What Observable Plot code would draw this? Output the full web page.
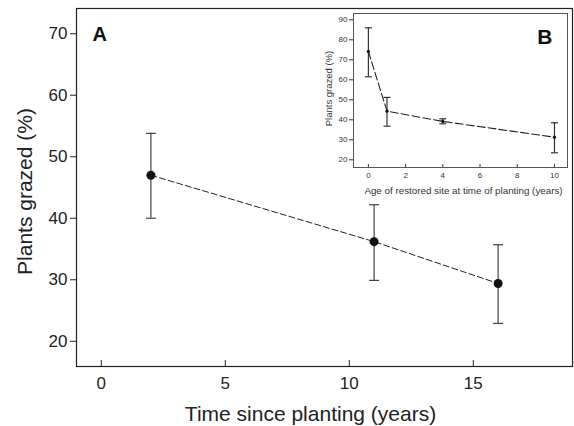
<!DOCTYPE html>
<html>
<head>
<meta charset="utf-8">
<script src="https://cdn.jsdelivr.net/npm/d3@7"></script>
<script src="https://cdn.jsdelivr.net/npm/@observablehq/plot@0.6"></script>
<style>
  html, body { margin: 0; padding: 0; background: #fff; overflow: hidden; }
  #wrap { position: relative; width: 574px; height: 426px; overflow: hidden; font-family: "Liberation Sans", Arial, sans-serif; }
  #wrap svg { position: absolute; background: transparent; }
</style>
</head>
<body>
<div id="wrap"></div>
<script>
// Panel A: time since planting
const mainYears = [2, 11, 16];
const mainGrazed = [47, 36.2, 29.4];
const mainLow = [40, 29.9, 22.9];
const mainHigh = [53.8, 42.2, 35.7];
const mainXTicks = [0, 5, 10, 15];
const mainYTicks = [20, 30, 40, 50, 60, 70];

// Panel B (inset): age of restored site
const insetAge = [0, 1, 4, 10];
const insetGrazed = [74.2, 44.3, 39.2, 31.3];
const insetLow = [61.5, 36.8, 38.0, 23.5];
const insetHigh = [86, 51.2, 40.5, 38.5];
const insetXTicks = [0, 2, 4, 6, 8, 10];
const insetYTicks = [20, 30, 40, 50, 60, 70, 80, 90];

const mainData = mainYears.map((x, i) => ({x, y: mainGrazed[i], lo: mainLow[i], hi: mainHigh[i]}));
const insetData = insetAge.map((x, i) => ({x, y: insetGrazed[i], lo: insetLow[i], hi: insetHigh[i]}));

// horizontal cap symbol for error bars
const cap = {draw(ctx, size) { const w = Math.sqrt(size / Math.PI); ctx.moveTo(-w, 0); ctx.lineTo(w, 0); }};

const font = '"Liberation Sans", Arial, sans-serif';
const wrap = document.getElementById("wrap");

const mainW = 574, mainH = 426, mT = 8, mB = 60, mL = 76, mR = 2;
const main = Plot.plot({
  width: mainW, height: mainH,
  marginTop: mT, marginBottom: mB, marginLeft: mL, marginRight: mR,
  style: {fontFamily: font, color: "#222", background: "transparent", overflow: "visible"},
  x: {domain: [-1, 19]},
  y: {domain: [15.9, 74.1]},
  marks: [
    Plot.frame({stroke: "#222", strokeWidth: 1.2}),
    Plot.axisX(mainXTicks, {tickSize: 0, tickPadding: 10, fontSize: 17, label: null, fill: "#222"}),
    Plot.ruleX(mainXTicks, {stroke: "#222", insetTop: mainH - mT - mB - 6}),
    Plot.axisY(mainYTicks, {tickSize: 6, tickPadding: 3, fontSize: 17, label: null, fill: "#222", stroke: "#222"}),
    Plot.text(["Plants grazed (%)"], {frameAnchor: "left", textAnchor: "middle", rotate: -90, dx: -51, dy: 4, fontSize: 21, fill: "#222"}),
    Plot.text(["Time since planting (years)"], {frameAnchor: "bottom", textAnchor: "middle", lineAnchor: "bottom", dx: -14, dy: 54, fontSize: 21, fill: "#222"}),
    Plot.text(["A"], {frameAnchor: "top-left", textAnchor: "start", lineAnchor: "bottom", dx: 16, dy: 32, fontSize: 20, fontWeight: "bold", fill: "#111"}),
    Plot.ruleX(mainData, {x: "x", y1: "lo", y2: "hi", stroke: "#444", strokeWidth: 1.2}),
    Plot.dot(mainData, {x: "x", y: "lo", symbol: cap, r: 5, stroke: "#444", fill: "none", strokeWidth: 1.2}),
    Plot.dot(mainData, {x: "x", y: "hi", symbol: cap, r: 5, stroke: "#444", fill: "none", strokeWidth: 1.2}),
    Plot.line(mainData, {x: "x", y: "y", stroke: "#222", strokeWidth: 1, strokeDasharray: "6,3"}),
    Plot.dot(mainData, {x: "x", y: "y", r: 4.5, fill: "#111", stroke: "none"})
  ]
});
main.style.left = "0px"; main.style.top = "0px";
wrap.appendChild(main);

const iLeft = 290, iTop = 0, iW = 284, iH = 200, iT = 13, iB = 33, iL = 63, iR = 7;
const inset = Plot.plot({
  width: iW, height: iH,
  marginTop: iT, marginBottom: iB, marginLeft: iL, marginRight: iR,
  style: {fontFamily: font, color: "#333", background: "transparent", overflow: "visible"},
  x: {domain: [-0.8, 10.7]},
  y: {domain: [16.15, 93.15]},
  marks: [
    Plot.frame({stroke: "#555", strokeWidth: 1}),
    Plot.axisX(insetXTicks, {tickSize: 0, tickPadding: 5, fontSize: 8, label: null, fill: "#333"}),
    Plot.ruleX(insetXTicks, {stroke: "#333", insetTop: iH - iT - iB - 3}),
    Plot.axisY(insetYTicks, {tickSize: 4, tickPadding: 2, fontSize: 8, label: null, fill: "#333", stroke: "#333"}),
    Plot.text(["Plants grazed (%)"], {frameAnchor: "left", textAnchor: "middle", rotate: -90, dx: -25, dy: -2, fontSize: 9.5, fill: "#333"}),
    Plot.text(["Age of restored site at time of planting (years)"], {frameAnchor: "bottom", textAnchor: "middle", lineAnchor: "bottom", dx: 3, dy: 26, fontSize: 9.8, fill: "#333"}),
    Plot.text(["B"], {frameAnchor: "top-right", textAnchor: "end", lineAnchor: "bottom", dx: -15, dy: 30, fontSize: 21, fontWeight: "bold", fill: "#111"}),
    Plot.ruleX(insetData, {x: "x", y1: "lo", y2: "hi", stroke: "#333", strokeWidth: 1.2}),
    Plot.dot(insetData, {x: "x", y: "lo", symbol: cap, r: 3.5, stroke: "#333", fill: "none", strokeWidth: 1.2}),
    Plot.dot(insetData, {x: "x", y: "hi", symbol: cap, r: 3.5, stroke: "#333", fill: "none", strokeWidth: 1.2}),
    Plot.line(insetData, {x: "x", y: "y", stroke: "#222", strokeWidth: 1.1, strokeDasharray: "8,3"}),
    Plot.dot(insetData, {x: "x", y: "y", r: 1.6, fill: "#111", stroke: "none"})
  ]
});
inset.style.left = iLeft + "px"; inset.style.top = iTop + "px";
wrap.appendChild(inset);
</script>
</body>
</html>
